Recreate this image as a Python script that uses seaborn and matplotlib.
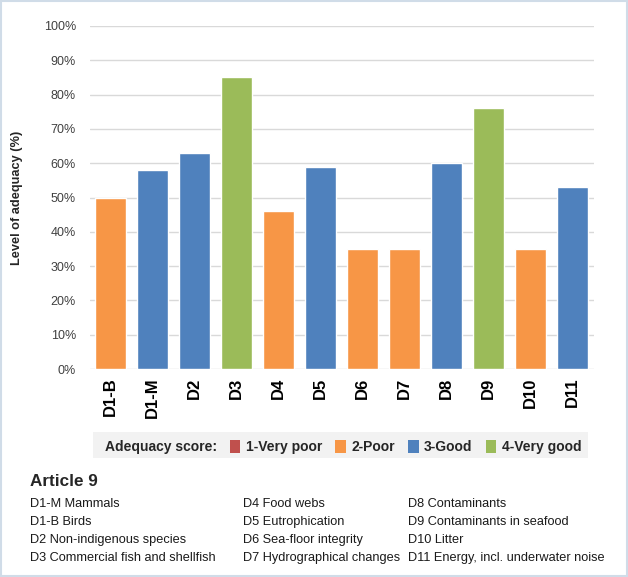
import matplotlib
matplotlib.use("Agg")
import matplotlib.pyplot as plt
import seaborn as sns
import pandas as pd
from matplotlib.patches import Patch, Rectangle

categories = ["D1-B", "D1-M", "D2", "D3", "D4", "D5", "D6", "D7", "D8", "D9", "D10", "D11"]
values = [50, 58, 63, 85, 46, 59, 35, 35, 60, 76, 35, 53]
scores = ["2-Poor", "3-Good", "3-Good", "4-Very good", "2-Poor", "3-Good",
          "2-Poor", "2-Poor", "3-Good", "4-Very good", "2-Poor", "3-Good"]
score_levels = ["1-Very poor", "2-Poor", "3-Good", "4-Very good"]
score_colors = ["#C0504D", "#F79646", "#4F81BD", "#9BBB59"]
yticks = [0, 10, 20, 30, 40, 50, 60, 70, 80, 90, 100]

col1 = ["D1-M Mammals", "D1-B Birds", "D2 Non-indigenous species", "D3 Commercial fish and shellfish"]
col2 = ["D4 Food webs", "D5 Eutrophication", "D6 Sea-floor integrity", "D7 Hydrographical changes"]
col3 = ["D8 Contaminants", "D9 Contaminants in seafood", "D10 Litter", "D11 Energy, incl. underwater noise"]

sns.set_theme(style="white")
plt.rcParams['font.family'] = ['Liberation Sans', 'DejaVu Sans']

df = pd.DataFrame({"cat": categories, "val": values, "score": scores})

fig = plt.figure(figsize=(6.28, 5.77), dpi=100)
ax = fig.add_axes([89.5/628, 1-369/577, 504/628, 343/577])

sns.barplot(data=df, x="cat", y="val", hue="score", hue_order=score_levels,
            palette=dict(zip(score_levels, score_colors)), dodge=False,
            width=0.74, ax=ax, legend=False, saturation=1)

ax.set_ylim(0, 100)
ax.set_xlim(-0.5, len(categories) - 0.5)
ax.set_yticks(yticks)
ax.set_yticklabels([f"{t}%" for t in yticks], fontsize=9, color="#404040")
ax.yaxis.grid(True, color="#D9D9D9", linewidth=1)
ax.set_axisbelow(True)
for s in ax.spines.values():
    s.set_visible(False)
ax.tick_params(axis="y", length=0, pad=9.7)
ax.tick_params(axis="x", length=0, pad=6)
ax.set_xticks(range(len(categories)))
ax.set_xticklabels(categories, rotation=90, fontsize=12, fontweight="bold", color="black")
ax.set_xlabel("")
ax.set_ylabel("Level of adequacy (%)", fontsize=9.2, fontweight="bold")
ax.yaxis.set_label_coords((23 - 89.5) / 504, 0.5)

# legend background
fig.patches.append(Rectangle((93/628, 1-458/577), 495/628, 26/577, transform=fig.transFigure,
                             facecolor="#F2F2F2", edgecolor="none", zorder=0))
handles = [Patch(facecolor="none", edgecolor="none")] + \
          [Patch(facecolor=c, edgecolor="none") for c in score_colors]
labels = ["Adequacy score:"] + score_levels
leg = fig.legend(handles, labels, loc="center", bbox_to_anchor=(335/628, 1-447/577),
                 ncol=5, frameon=False, handlelength=0.75, handleheight=1.15,
                 handletextpad=0.4, columnspacing=0.95,
                 prop={"weight": "bold", "size": 10})
for t in leg.get_texts():
    t.set_color("#262626")
leg.legend_handles[0].set_width(0)

fig.text(30/628, 1-481/577, "Article 9", fontsize=12.3, fontweight="bold", va="center", ha="left")
xs = [30, 243, 408]
ys = [504, 522, 540, 558]
for x, col in zip(xs, [col1, col2, col3]):
    for y, t in zip(ys, col):
        fig.text(x/628, 1-y/577, t, fontsize=9.2, va="center", ha="left", color="#1a1a1a")

fig.patches.append(Rectangle((0.001, 0.001), 0.997, 0.997, transform=fig.transFigure,
                             facecolor="none", edgecolor="#D0DCE8", linewidth=1.5))

fig.savefig("out.png", dpi=100)
